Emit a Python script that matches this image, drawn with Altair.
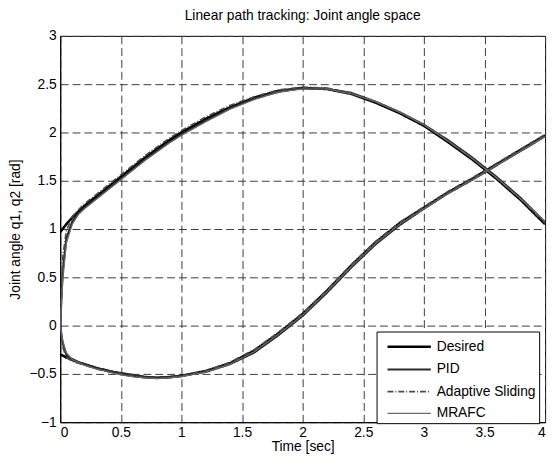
import altair as alt
import pandas as pd

# time grid [sec]
t = [0, 0.02, 0.05, 0.1, 0.15, 0.2, 0.3, 0.4, 0.5, 0.6, 0.7, 0.8, 0.9, 1.0,
     1.2, 1.4, 1.6, 1.8, 2.0, 2.2, 2.4, 2.6, 2.8, 3.0, 3.2, 3.4, 3.6, 3.8, 4.0]

# joint 1 [rad]
q1_desired = [0.97, 1.00, 1.05, 1.12, 1.18, 1.24, 1.34, 1.44, 1.54, 1.64, 1.74, 1.83, 1.92, 2.00,
              2.14, 2.26, 2.36, 2.43, 2.46, 2.45, 2.40, 2.31, 2.20, 2.07, 1.90, 1.72, 1.52, 1.30, 1.05]
q1_pid = [0.0, 0.55, 0.90, 1.08, 1.16, 1.22, 1.32, 1.42, 1.52, 1.62, 1.72, 1.81, 1.90, 1.98,
          2.12, 2.25, 2.35, 2.42, 2.46, 2.45, 2.41, 2.32, 2.21, 2.08, 1.92, 1.74, 1.54, 1.32, 1.07]
q1_adaptive = [0.0, 0.70, 0.98, 1.13, 1.20, 1.26, 1.36, 1.46, 1.56, 1.66, 1.76, 1.85, 1.94, 2.02,
               2.16, 2.28, 2.37, 2.44, 2.47, 2.46, 2.41, 2.32, 2.21, 2.08, 1.91, 1.73, 1.53, 1.31, 1.06]
q1_mrafc = [0.0, 0.45, 0.85, 1.05, 1.15, 1.21, 1.31, 1.41, 1.51, 1.61, 1.71, 1.80, 1.89, 1.97,
            2.11, 2.24, 2.34, 2.42, 2.45, 2.45, 2.40, 2.32, 2.21, 2.08, 1.91, 1.73, 1.53, 1.31, 1.08]

# joint 2 [rad]
q2_desired = [-0.30, -0.31, -0.33, -0.35, -0.38, -0.40, -0.44, -0.47, -0.50, -0.52, -0.535, -0.54, -0.535, -0.52,
              -0.47, -0.39, -0.26, -0.08, 0.12, 0.36, 0.62, 0.86, 1.06, 1.22, 1.38, 1.52, 1.67, 1.82, 1.97]
q2_pid = [0.0, -0.18, -0.30, -0.36, -0.38, -0.40, -0.44, -0.47, -0.49, -0.51, -0.53, -0.54, -0.53, -0.52,
          -0.48, -0.40, -0.28, -0.10, 0.10, 0.34, 0.60, 0.84, 1.04, 1.21, 1.37, 1.51, 1.66, 1.81, 1.96]
q2_adaptive = [0.0, -0.22, -0.33, -0.37, -0.39, -0.41, -0.45, -0.48, -0.50, -0.52, -0.54, -0.545, -0.54, -0.52,
               -0.47, -0.38, -0.25, -0.07, 0.13, 0.37, 0.63, 0.87, 1.07, 1.23, 1.39, 1.53, 1.68, 1.83, 1.98]
q2_mrafc = [0.0, -0.15, -0.28, -0.35, -0.38, -0.41, -0.45, -0.48, -0.51, -0.53, -0.54, -0.55, -0.54, -0.53,
            -0.48, -0.40, -0.27, -0.09, 0.11, 0.35, 0.61, 0.85, 1.05, 1.21, 1.37, 1.51, 1.66, 1.81, 1.96]

series = ["Desired", "PID", "Adaptive Sliding", "MRAFC"]
colors = ["#000000", "#2a2a2a", "#4a4a4a", "#6a6a6a"]
dashes = [[1, 0], [1, 0], [6, 2, 1, 2], [1, 0]]
widths = [2.6, 1.2, 1.2, 1.2]

x_ticks = [0, 0.5, 1, 1.5, 2, 2.5, 3, 3.5, 4]
y_ticks = [-1, -0.5, 0, 0.5, 1, 1.5, 2, 2.5, 3]

data = {
    "Desired": (q1_desired, q2_desired),
    "PID": (q1_pid, q2_pid),
    "Adaptive Sliding": (q1_adaptive, q2_adaptive),
    "MRAFC": (q1_mrafc, q2_mrafc),
}
rows = []
for idx, name in enumerate(series):
    q1, q2 = data[name]
    for ti, a, b in zip(t, q1, q2):
        rows.append({"t": ti, "q": a, "series": name, "joint": "q1"})
        rows.append({"t": ti, "q": b, "series": name, "joint": "q2"})
df = pd.DataFrame(rows)

FONT = "Liberation Sans"
FS = 14

legend = alt.Legend(
    title=None, orient="none", legendX=321, legendY=300,
    symbolType="M-0.4,0L3.6,0", symbolSize=484, symbolStrokeWidth=1,
    labelFont=FONT, labelFontSize=FS, labelColor="#000000",
    strokeColor="#000000", fillColor="#ffffff", padding=3, rowPadding=3,
    labelOffset=33,
)

chart = alt.Chart(df).mark_line(clip=True).encode(
    x=alt.X("t:Q", scale=alt.Scale(domain=[0, 4], nice=False),
            axis=alt.Axis(values=x_ticks, format="~g", title="Time [sec]")),
    y=alt.Y("q:Q", scale=alt.Scale(domain=[-1, 3], nice=False),
            axis=alt.Axis(values=y_ticks, format="~g", title="Joint angle q1, q2 [rad]")),
    color=alt.Color("series:N", scale=alt.Scale(domain=series, range=colors), legend=legend),
    strokeDash=alt.StrokeDash("series:N", scale=alt.Scale(domain=series, range=dashes), legend=legend),
    strokeWidth=alt.StrokeWidth("series:N", scale=alt.Scale(domain=series, range=widths), legend=legend),
    detail="joint:N",
    order="t:Q",
).properties(
    width=492, height=392,
    title=alt.Title("Linear path tracking: Joint angle space", font=FONT, fontSize=FS,
                    fontWeight="normal", color="#000000", offset=6),
    autosize=alt.AutoSizeParams(type="none"),
    padding={"left": 53, "top": 25, "right": 5, "bottom": 30},
).configure_view(
    stroke="#000000", strokeWidth=1,
).configure_axis(
    labelFont=FONT, labelFontSize=FS, labelColor="#000000",
    titleFont=FONT, titleFontSize=FS, titleFontWeight="normal", titleColor="#000000",
    grid=True, gridColor="#3a3a3a", gridDash=[8, 4], gridWidth=1, gridOpacity=1,
    domainColor="#000000", ticks=False, labelPadding=4,
).configure_axisX(
    titlePadding=0,
).configure_axisY(
    titlePadding=7,
)

chart.save("out.html", embed_options={"renderer": "svg", "actions": False})
